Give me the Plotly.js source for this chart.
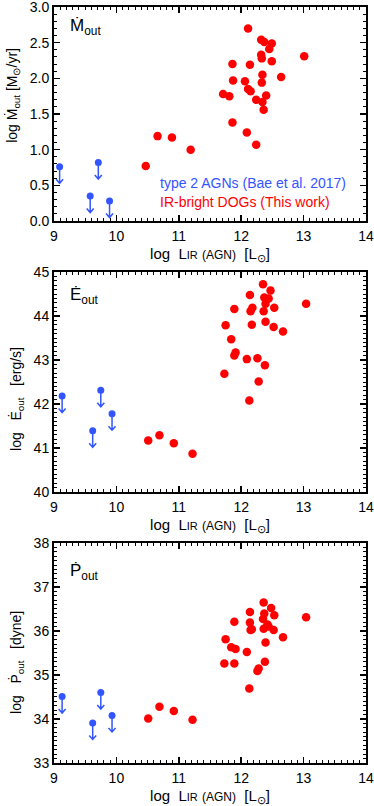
<!DOCTYPE html>
<html>
<head>
<meta charset="utf-8">
<script src="https://cdn.plot.ly/plotly-3.0.1.min.js"></script>
<style>html,body{margin:0;padding:0;background:#fff;}#chart{width:374px;height:806px;}</style>
</head>
<body>
<div id="chart"></div>
<script>
// ---- Panel 1: Mdot_out (log Msun/yr) ----
const blueM_x = [9.09, 9.58, 9.71, 9.89];
const blueM_y = [0.76, 0.35, 0.82, 0.28];
const redM_x = [10.47, 10.66, 10.89, 11.19,
  12.11, 12.32, 12.37, 12.49, 12.45, 12.32, 12.33, 13.01, 11.86, 12.14, 12.49, 12.34, 12.64,
  11.87, 12.06, 12.33, 12.11, 12.15, 11.71, 11.81, 12.40, 12.24, 12.34, 12.36, 11.86, 12.09, 12.24];
const redM_y = [0.77, 1.19, 1.17, 1.00,
  2.70, 2.54, 2.51, 2.49, 2.41, 2.33, 2.28, 2.31, 2.20, 2.19, 2.24, 2.05, 2.02,
  1.97, 1.96, 1.94, 1.85, 1.82, 1.78, 1.75, 1.76, 1.70, 1.67, 1.56, 1.38, 1.24, 1.07];

// ---- Panel 2: Edot_out (log erg/s) ----
const blueE_x = [9.13, 9.62, 9.75, 9.93];
const blueE_y = [42.18, 41.39, 42.31, 41.78];
const redE_x = [10.51, 10.69, 10.92, 11.22,
  12.35, 12.47, 12.14, 12.37, 12.44, 12.39, 12.18, 12.15, 11.89, 12.53, 12.36, 13.04, 11.75,
  12.17, 12.39, 12.52, 12.67, 11.84, 11.91, 11.89, 12.09, 12.26, 12.38, 11.73, 12.28, 12.13];
const redE_y = [41.17, 41.29, 41.11, 40.87,
  44.72, 44.58, 44.48, 44.42, 44.40, 44.28, 44.19, 44.11, 44.16, 44.19, 44.11, 44.28, 43.79,
  43.80, 43.87, 43.75, 43.65, 43.47, 43.17, 43.10, 43.02, 43.04, 42.88, 42.69, 42.51, 42.08];

// ---- Panel 3: Pdot_out (log dyne) ----
const blueP_x = [9.13, 9.62, 9.75, 9.93];
const blueP_y = [34.51, 33.91, 34.60, 34.08];
const redP_x = [10.51, 10.69, 10.92, 11.22,
  12.36, 12.48, 12.14, 12.53, 12.37, 12.35, 12.42, 11.89, 12.14, 12.17, 12.15, 12.36, 12.44,
  12.52, 13.04, 12.67, 12.39, 11.75, 11.84, 11.91, 12.09, 11.73, 11.89, 12.38, 12.28, 12.26, 12.13];
const redP_y = [34.01, 34.28, 34.18, 33.98,
  36.65, 36.52, 36.43, 36.36, 36.40, 36.27, 36.15, 36.21, 36.19, 36.04, 36.02, 36.05, 36.10,
  36.02, 36.31, 35.86, 35.74, 35.81, 35.63, 35.59, 35.52, 35.26, 35.26, 35.30, 35.15, 35.09, 34.69];

// ---- Text ----
const panelLabels = ['Ṁ<sub>out</sub>', 'Ė<sub>out</sub>', 'Ṗ<sub>out</sub>'];
const yTitles = ['log Ṁ<sub>out</sub> [M<sub>⊙</sub>/yr]', 'log   Ė<sub>out</sub>   [erg/s]', 'log   Ṗ<sub>out</sub>   [dyne]'];
const xTitle = "log  L<span style='font-size:11px'>IR</span> <span style='font-size:12px'>(AGN)</span>  [L<sub>⊙</sub>]";
const legendTexts = ['type 2 AGNs (Bae et al. 2017)', 'IR-bright DOGs (This work)'];
const yRanges = [[0, 3], [40, 45], [33, 38]];
const yDticks = [0.5, 1, 1];

const BLUE = '#3355ff';
const RED = '#ff0000';
const FONT = 'Liberation Sans, Arial, Helvetica, sans-serif';

const blues = [[blueM_x, blueM_y], [blueE_x, blueE_y], [blueP_x, blueP_y]];
const reds = [[redM_x, redM_y], [redE_x, redE_y], [redP_x, redP_y]];

const traces = [];
const annotations = [];
const shapes = [];
const layout = {
  width: 374, height: 806,
  margin: {l: 0, r: 0, t: 0, b: 0},
  paper_bgcolor: '#fff', plot_bgcolor: '#fff',
  showlegend: false,
  font: {family: FONT, color: '#000', size: 14},
  annotations: annotations,
  shapes: shapes
};

// domains (fractions of the 806px height)
const yDomains = [[0.7258, 0.9913], [0.3896, 0.6625], [0.0534, 0.3263]];
const titleY = [0.585, 0.423, 0.455];
const titleX = [13, 17, 17];
const labelY = [0.905, 0.89, 0.87];
// upper-limit arrow drawn in pixels below each blue point
const arrowPath = 'M0,0 L0,-16.5 M-3.5,-12.5 L0,-16.5 L3.5,-12.5';

for (let i = 0; i < 3; i++) {
  const xa = 'x' + (i === 0 ? '' : i + 1);
  const ya = 'y' + (i === 0 ? '' : i + 1);
  const xk = 'xaxis' + (i === 0 ? '' : i + 1);
  const yk = 'yaxis' + (i === 0 ? '' : i + 1);
  traces.push({x: reds[i][0], y: reds[i][1], xaxis: xa, yaxis: ya, type: 'scatter', mode: 'markers',
    marker: {color: RED, size: 8.5}, hoverinfo: 'skip'});
  traces.push({x: blues[i][0], y: blues[i][1], xaxis: xa, yaxis: ya, type: 'scatter', mode: 'markers',
    marker: {color: BLUE, size: 7}, hoverinfo: 'skip'});
  layout[xk] = {
    domain: [54 / 374, 366 / 374], range: [9, 14], anchor: ya,
    dtick: 1, tick0: 9, ticks: 'inside', ticklen: 6, tickwidth: 1.5, tickcolor: '#000',
    minor: {dtick: 0.1, ticks: 'inside', ticklen: 3, tickwidth: 1, tickcolor: '#000'},
    showline: true, linewidth: 2, linecolor: '#000', mirror: 'allticks',
    showgrid: false, zeroline: false, ticklabelstandoff: 1, ticklabeloverflow: 'allow',
    tickfont: {size: 14, family: FONT, color: '#000'},
    title: {text: xTitle, font: {size: 15, family: FONT, color: '#000'}, standoff: 6}
  };
  layout[yk] = {
    domain: yDomains[i], range: yRanges[i], anchor: xa,
    dtick: yDticks[i], tickformat: i === 0 ? '.1f' : 'd', ticks: 'inside', ticklen: 6, tickwidth: 1.5, tickcolor: '#000',
    minor: {dtick: 0.1, ticks: 'inside', ticklen: 3, tickwidth: 1, tickcolor: '#000'},
    showline: true, linewidth: 2, linecolor: '#000', mirror: 'allticks',
    showgrid: false, zeroline: false, ticklabeloverflow: 'allow',
    tickfont: {size: 14, family: FONT, color: '#000'}
  };
  for (let k = 0; k < blues[i][0].length; k++) {
    shapes.push({type: 'path', xref: xa, yref: ya, xsizemode: 'pixel', ysizemode: 'pixel',
      xanchor: blues[i][0][k], yanchor: blues[i][1][k], path: arrowPath,
      line: {color: BLUE, width: 1.5}, layer: 'above'});
  }
  annotations.push({x: 0.045, y: labelY[i], xref: xa + ' domain', yref: ya + ' domain',
    xanchor: 'left', yanchor: 'middle', showarrow: false, text: panelLabels[i],
    font: {size: 17, family: FONT, color: '#000'}});
  annotations.push({x: titleX[i] / 374, y: titleY[i], xref: 'paper', yref: ya + ' domain',
    xanchor: 'center', yanchor: 'middle', textangle: -90, showarrow: false, text: yTitles[i],
    font: {size: 14, family: FONT, color: '#000'}});
}
annotations.push({x: 10.66, y: 0.53, xref: 'x', yref: 'y', xanchor: 'left', yanchor: 'middle',
  showarrow: false, text: legendTexts[0], font: {size: 14, family: FONT, color: BLUE}});
annotations.push({x: 10.66, y: 0.26, xref: 'x', yref: 'y', xanchor: 'left', yanchor: 'middle',
  showarrow: false, text: legendTexts[1], font: {size: 14, family: FONT, color: RED}});

Plotly.newPlot('chart', traces, layout, {staticPlot: true, displayModeBar: false});
</script>
</body>
</html>
